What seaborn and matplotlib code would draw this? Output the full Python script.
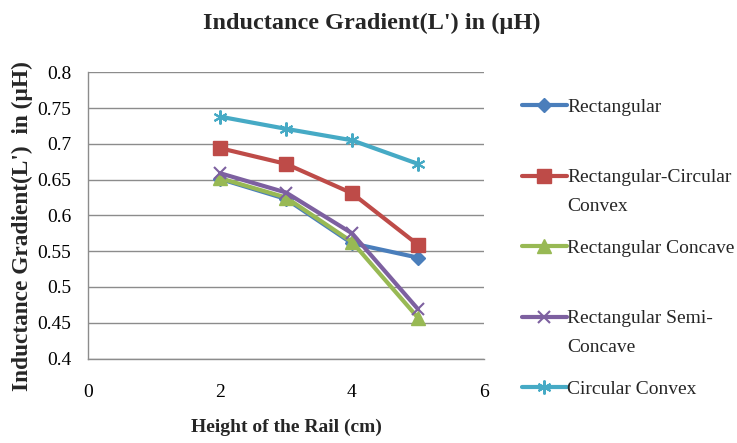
import matplotlib
matplotlib.use("Agg")
import matplotlib.pyplot as plt
import seaborn as sns
import pandas as pd

# Rail height (cm) and inductance gradient values per rail geometry
heights = [2, 3, 4, 5]
series_names = [
    "Rectangular",
    "Rectangular-Circular Convex",
    "Rectangular Concave",
    "Rectangular Semi-Concave",
    "Circular Convex",
]
rectangular = [0.651, 0.623, 0.561, 0.541]
rect_circular_convex = [0.694, 0.672, 0.631, 0.559]
rect_concave = [0.652, 0.625, 0.563, 0.457]
rect_semi_concave = [0.659, 0.632, 0.575, 0.469]
circular_convex = [0.738, 0.721, 0.705, 0.672]

legend_first_lines = ["Rectangular", "Rectangular-Circular", "Rectangular Concave",
                      "Rectangular Semi-", "Circular Convex"]
legend_second_lines = [None, "Convex", None, "Concave", None]

x_ticks = [0, 2, 4, 6]
y_ticks = [0.4, 0.45, 0.5, 0.55, 0.6, 0.65, 0.7, 0.75, 0.8]
y_tick_labels = ["0.4", "0.45", "0.5", "0.55", "0.6", "0.65", "0.7", "0.75", "0.8"]

colors = ["#4A7EBB", "#BE4B48", "#98B954", "#7D60A0", "#46AAC5"]
markers = ["D", "s", "^", "x", (6, 2, 0)]
marker_sizes = [7, 10, 10, 9, 10]
marker_edge = [1, 1, 1, 1.5, 1.5]

values = [rectangular, rect_circular_convex, rect_concave, rect_semi_concave, circular_convex]

sns.set_theme(style="white")
plt.rcParams["font.family"] = ["Liberation Serif", "DejaVu Serif"]

fig = plt.figure(figsize=(7.37, 4.43), dpi=100)
ax = fig.add_axes([0.1194, 0.1907, 0.5373, 0.6461])

for name, vals, c, m, ms, mew in zip(series_names, values, colors, markers,
                                     marker_sizes, marker_edge):
    df = pd.DataFrame({"height": heights, "L": vals})
    sns.lineplot(data=df, x="height", y="L", color=c, marker=m, markersize=ms,
                 markeredgecolor=c, markerfacecolor=c, markeredgewidth=mew,
                 linewidth=3, solid_joinstyle="round", label=name, legend=False, ax=ax)

ax.set_xlim(0, 6)
ax.set_ylim(0.4, 0.8)
ax.set_xticks(x_ticks)
ax.set_xticklabels([str(t) for t in x_ticks])
ax.set_yticks(y_ticks)
ax.set_yticklabels(y_tick_labels)
ax.tick_params(axis="both", length=0, labelsize=14, colors="black")
ax.tick_params(axis="x", pad=18)
ax.tick_params(axis="y", pad=12)

ax.grid(axis="y", color="#8C8C8C", linewidth=1)
ax.grid(axis="x", visible=False)
ax.set_axisbelow(True)
for side in ["top", "right"]:
    ax.spines[side].set_visible(False)
for side in ["left", "bottom"]:
    ax.spines[side].set_color("#8C8C8C")
    ax.spines[side].set_linewidth(1)

ax.set_xlabel("")
ax.set_ylabel("")
fig.text(0.389, 0.036, "Height of the Rail (cm)", ha="center", va="center",
         fontsize=14, fontweight="bold")
fig.text(0.030, 0.49, "Inductance Gradient(L')  in (µH)", ha="center", va="center",
         rotation=90, fontsize=16.8, fontweight="bold")
fig.suptitle("Inductance Gradient(L') in (µH)", x=0.505, y=0.948, va="center",
             fontsize=17.5, fontweight="bold")

leg = ax.legend(ax.lines, legend_first_lines, loc="upper left",
                bbox_to_anchor=(0.708, 0.778), bbox_transform=fig.transFigure,
                frameon=False, fontsize=14, handlelength=2.3, handletextpad=0.05,
                labelspacing=2.72, borderpad=0, borderaxespad=0)

# second lines of the wrapped legend entries, drawn after the legend is laid out
fig.canvas.draw()
inv = fig.transFigure.inverted()
for txt, extra in zip(leg.get_texts(), legend_second_lines):
    if extra:
        bb = txt.get_window_extent()
        x0, yc = inv.transform((bb.x0, (bb.y0 + bb.y1) / 2 - 29))
        fig.text(x0, yc, extra, ha="left", va="center", fontsize=14)

fig.savefig("out.png", dpi=100)
